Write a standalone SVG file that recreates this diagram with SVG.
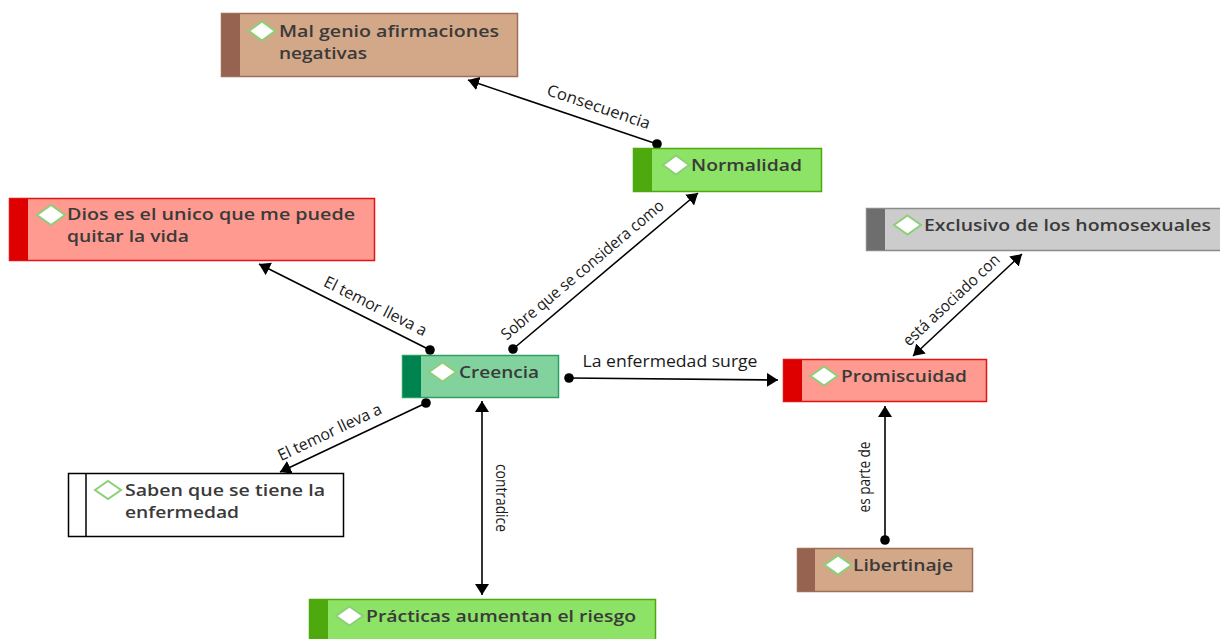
<svg xmlns="http://www.w3.org/2000/svg" width="1220" height="639" viewBox="0 0 1220 639">
<style>
.nt{font-family:"Open Sans","Liberation Sans",sans-serif;font-weight:600;font-size:17px;fill:#3a3a3a}
.nt2{font-size:16px}
.lb{font-family:"Open Sans","Liberation Sans",sans-serif;font-weight:400;font-size:16px;fill:#1a1a1a}
.dia{fill:#ffffff;stroke:#8ccf78;stroke-width:2}
.ln{stroke:#000;stroke-width:1.6;fill:none}
.brown .bg{fill:#d3a888;stroke:#a06e58;stroke-width:1.5}
.brown .st{fill:#966350}
.green .bg{fill:#8ce366;stroke:#4da90d;stroke-width:1.5}
.green .st{fill:#4da90d}
.red .bg{fill:#ff9a90;stroke:#e01414;stroke-width:1.5}
.red .st{fill:#de0000}
.gray .bg{fill:#cccccc;stroke:#8a8a8a;stroke-width:1.5}
.gray .st{fill:#6e6e6e}
.teal .bg{fill:#82d29e;stroke:#2c9f63;stroke-width:1.5}
.teal .st{fill:#00844f}
.white .bg{fill:#ffffff;stroke:#000;stroke-width:1.5}
</style>
<defs>
<marker id="arr" viewBox="0 0 11 14" refX="11" refY="7" markerWidth="11" markerHeight="14" markerUnits="userSpaceOnUse" orient="auto-start-reverse"><path d="M0,0 L11,7 L0,14 z" fill="#000"/></marker>
<marker id="dot" viewBox="0 0 10 10" refX="5" refY="5" markerWidth="10" markerHeight="10" markerUnits="userSpaceOnUse"><circle cx="5" cy="5" r="4.8" fill="#000"/></marker>
</defs>
<rect width="1220" height="639" fill="#ffffff"/>

<g id="connectors">
<line class="ln" x1="657" y1="144" x2="468" y2="80" marker-start="url(#dot)" marker-end="url(#arr)"/>
<text class="lb" x="597" y="112" text-anchor="middle" textLength="108" lengthAdjust="spacingAndGlyphs" transform="rotate(18.7 597 112)">Consecuencia</text>

<line class="ln" x1="513" y1="349" x2="698" y2="193" marker-start="url(#dot)" marker-end="url(#arr)"/>
<text class="lb" x="586" y="274" text-anchor="middle" textLength="207" lengthAdjust="spacingAndGlyphs" transform="rotate(-40.1 586 274)">Sobre que se considera como</text>

<line class="ln" x1="430" y1="350" x2="259" y2="264" marker-start="url(#dot)" marker-end="url(#arr)"/>
<text class="lb" x="373" y="311" text-anchor="middle" textLength="113" lengthAdjust="spacingAndGlyphs" transform="rotate(26.7 373 311)">El temor lleva a</text>

<line class="ln" x1="426" y1="403" x2="280" y2="472" marker-start="url(#dot)" marker-end="url(#arr)"/>
<text class="lb" x="332" y="437" text-anchor="middle" textLength="113" lengthAdjust="spacingAndGlyphs" transform="rotate(-25.3 332 437)">El temor lleva a</text>

<line class="ln" x1="569" y1="378" x2="778" y2="380" marker-start="url(#dot)" marker-end="url(#arr)"/>
<text class="lb" x="670" y="367" text-anchor="middle" textLength="175" lengthAdjust="spacingAndGlyphs">La enfermedad surge</text>

<line class="ln" x1="482" y1="401" x2="482" y2="595" marker-start="url(#arr)" marker-end="url(#arr)"/>
<text class="lb" x="496" y="498" text-anchor="middle" textLength="68" lengthAdjust="spacingAndGlyphs" transform="rotate(90 496 498)">contradice</text>

<line class="ln" x1="913" y1="356" x2="1022" y2="254" marker-start="url(#arr)" marker-end="url(#arr)"/>
<text class="lb" x="955" y="304" text-anchor="middle" textLength="126" lengthAdjust="spacingAndGlyphs" transform="rotate(-43.1 955 304)">está asociado con</text>

<line class="ln" x1="885" y1="540" x2="885" y2="406" marker-start="url(#dot)" marker-end="url(#arr)"/>
<text class="lb" x="870" y="477" text-anchor="middle" textLength="71" lengthAdjust="spacingAndGlyphs" transform="rotate(-90 870 477)">es parte de</text>
</g>

<g id="n-malgenio" class="brown">
<rect class="bg" x="221.5" y="13.5" width="296" height="63"/>
<rect class="st" x="222" y="14" width="18" height="62"/>
<path class="dia" d="M249,31 L262,21.5 L275,31 L262,40.5 z"/>
<text class="nt nt2" x="279" y="37" textLength="220" lengthAdjust="spacingAndGlyphs">Mal genio afirmaciones</text>
<text class="nt nt2" x="279" y="59" textLength="88" lengthAdjust="spacingAndGlyphs">negativas</text>
</g>

<g id="n-normalidad" class="green">
<rect class="bg" x="633.5" y="148.5" width="188" height="43"/>
<rect class="st" x="634" y="149" width="18" height="42"/>
<path class="dia" d="M663,165 L676,155.5 L689,165 L676,174.5 z"/>
<text class="nt" x="691" y="171" textLength="111" lengthAdjust="spacingAndGlyphs">Normalidad</text>
</g>

<g id="n-dios" class="red">
<rect class="bg" x="9.5" y="198.5" width="365" height="62"/>
<rect class="st" x="10" y="199" width="18" height="61"/>
<path class="dia" d="M37,215 L51,205 L65,215 L51,225 z"/>
<text class="nt nt2" x="67" y="220" textLength="288" lengthAdjust="spacingAndGlyphs">Dios es el unico que me puede</text>
<text class="nt nt2" x="67" y="242" textLength="122" lengthAdjust="spacingAndGlyphs">quitar la vida</text>
</g>

<g id="n-exclusivo" class="gray">
<rect class="bg" x="866.5" y="208.5" width="355" height="42"/>
<rect class="st" x="867" y="209" width="18" height="41"/>
<path class="dia" d="M894,225 L907.5,215.5 L921,225 L907.5,234.5 z"/>
<text class="nt" x="924" y="231" textLength="287" lengthAdjust="spacingAndGlyphs">Exclusivo de los homosexuales</text>
</g>

<g id="n-creencia" class="teal">
<rect class="bg" x="402.5" y="355.5" width="156" height="42"/>
<rect class="st" x="403" y="356" width="18" height="41"/>
<path class="dia" d="M429,372 L442.5,362.5 L456,372 L442.5,381.5 z"/>
<text class="nt" x="459" y="378" textLength="80" lengthAdjust="spacingAndGlyphs">Creencia</text>
</g>

<g id="n-promiscuidad" class="red">
<rect class="bg" x="783.5" y="359.5" width="203" height="42"/>
<rect class="st" x="784" y="360" width="18" height="41"/>
<path class="dia" d="M810.5,376 L824,366.5 L837.5,376 L824,385.5 z"/>
<text class="nt" x="841" y="382" textLength="126" lengthAdjust="spacingAndGlyphs">Promiscuidad</text>
</g>

<g id="n-saben" class="white">
<rect class="bg" x="68.5" y="473.5" width="275" height="63"/>
<line x1="86" y1="474" x2="86" y2="536" stroke="#000" stroke-width="1.5"/>
<path class="dia" d="M95,490 L108,481 L121,490 L108,499 z"/>
<text class="nt nt2" x="125" y="496" textLength="200" lengthAdjust="spacingAndGlyphs">Saben que se tiene la</text>
<text class="nt nt2" x="125" y="518" textLength="114" lengthAdjust="spacingAndGlyphs">enfermedad</text>
</g>

<g id="n-practicas" class="green">
<rect class="bg" x="309.5" y="599.5" width="346" height="45"/>
<rect class="st" x="310" y="600" width="18" height="44"/>
<path class="dia" d="M336,616 L349.5,606.5 L363,616 L349.5,625.5 z"/>
<text class="nt" x="366" y="622" textLength="270" lengthAdjust="spacingAndGlyphs">Prácticas aumentan el riesgo</text>
</g>

<g id="n-libertinaje" class="brown">
<rect class="bg" x="797.5" y="548.5" width="175" height="43"/>
<rect class="st" x="798" y="549" width="17" height="42"/>
<path class="dia" d="M824.5,565 L838,555.5 L851.5,565 L838,574.5 z"/>
<text class="nt" x="853" y="571" textLength="100" lengthAdjust="spacingAndGlyphs">Libertinaje</text>
</g>
</svg>
